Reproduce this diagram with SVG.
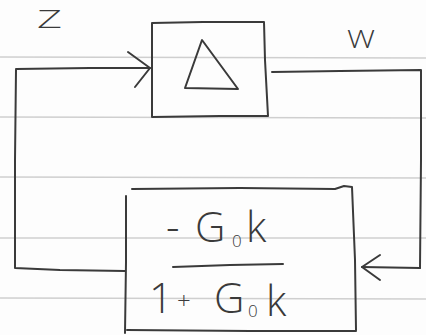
<svg xmlns="http://www.w3.org/2000/svg" width="426" height="335" viewBox="0 0 426 335">
  <defs>
    <style>
      .paper { fill: #fdfdfd; }
      .rule { stroke: #cfcfcf; stroke-width: 1.4; fill: none; }
      .ink { stroke: #3a3a3a; stroke-width: 2; fill: none; stroke-linecap: round; stroke-linejoin: round; }
      .label { font-family: "Open Sans", "Liberation Sans", sans-serif; font-weight: 300; fill: #3a3a3a; }
    </style>
  </defs>

  <!-- lined paper -->
  <rect class="paper" x="0" y="0" width="426" height="335"/>
  <g id="rules">
    <path class="rule" d="M0 57 L426 58"/>
    <path class="rule" d="M0 117 L426 118"/>
    <path class="rule" d="M0 177 L426 178"/>
    <path class="rule" d="M0 238 L426 238"/>
    <path class="rule" d="M0 298 L426 299"/>
  </g>

  <!-- signal labels -->
  <text class="label" x="37" y="28" font-size="25" textLength="25" lengthAdjust="spacingAndGlyphs">Z</text>
  <text class="label" x="347" y="48" font-size="25" textLength="28" lengthAdjust="spacingAndGlyphs">W</text>

  <!-- uncertainty block -->
  <g id="delta">
    <path class="ink" d="M152 23 L203 22 L264 22 L265 60 L268 116 L220 116 L152 117 L152 70 Z"/>
    <path class="ink" d="M202 40 L185 88 L238 89 Z"/>
  </g>

  <!-- closed-loop block -->
  <g id="plant">
    <path class="ink" d="M132 189 L240 188 L335 189 L344 186 L352 187 L355 260 L356 330"/>
    <path class="ink" d="M126 196 L126 262 L125 333"/>
    <path class="ink" d="M127 330 L250 331 L356 331"/>
    <path class="ink" d="M173 267 L230 265 L283 264"/>
    <text class="label" font-size="42">
      <tspan x="166" y="242">-</tspan><tspan x="195" y="242">G</tspan><tspan x="232" y="247" font-size="17">0</tspan><tspan x="246" y="242">k</tspan>
    </text>
    <text class="label" font-size="42">
      <tspan x="149" y="313">1</tspan><tspan x="177" y="309" font-size="24">+</tspan><tspan x="214" y="313">G</tspan><tspan x="248" y="317" font-size="17">0</tspan><tspan x="266" y="316">k</tspan>
    </text>
  </g>

  <!-- feedback wiring -->
  <g id="connectors">
    <path class="ink" d="M272 72 L340 71 L421 70 L421 160 L420 268"/>
    <path class="ink" d="M420 268 L362 267"/>
    <path class="ink" d="M380 255 L362 267 L380 280"/>
    <path class="ink" d="M125 271 L60 270 L15 268 L15 160 L16 70"/>
    <path class="ink" d="M16 69 L90 68 L150 68"/>
    <path class="ink" d="M128 52 L150 68 L135 87"/>
  </g>
</svg>
